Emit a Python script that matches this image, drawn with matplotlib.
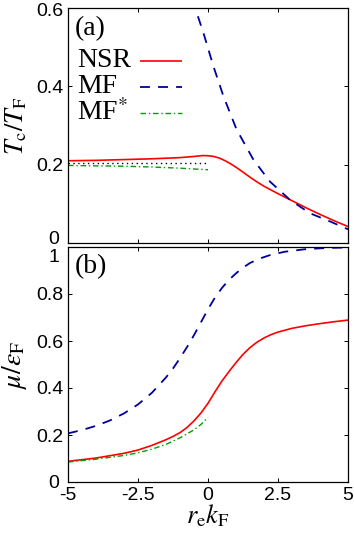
import numpy as np
import matplotlib
matplotlib.use("Agg")
import matplotlib.pyplot as plt
import matplotlib.transforms as mtransforms

# ---------------- data ----------------
# panel (a): Tc/TF vs re*kF
x_tc_nsr = [-5, -4, -3, -2, -1, -0.5, -0.2, 0, 0.2, 0.4, 0.6, 0.8, 1.0, 1.25, 1.5, 1.75, 2.0,
            2.5, 3.0, 3.5, 4.0, 4.5, 5]
y_tc_nsr = [0.210, 0.211, 0.213, 0.215, 0.218, 0.221, 0.2232, 0.2228, 0.2210, 0.2170, 0.2105,
            0.2025, 0.1935, 0.181, 0.168, 0.156, 0.145, 0.126, 0.108, 0.090, 0.073, 0.057, 0.042]
x_tc_mf = [-1.0, -0.6, -0.46, -0.17, 0.19, 0.55, 1.02, 1.62, 2.21, 2.93, 3.64, 4.36, 5]
y_tc_mf = [0.74, 0.635, 0.60, 0.538, 0.452, 0.375, 0.290, 0.213, 0.157, 0.110, 0.076, 0.055, 0.035]
x_tc_mfs = [-5, -4, -3, -2, -1, 0]
y_tc_mfs = [0.198, 0.197, 0.196, 0.194, 0.191, 0.187]
x_tc_ref = [-5, 0]
y_tc_ref = [0.203, 0.203]

# panel (b): mu/eF vs re*kF
x_mu_nsr = [-5, -4, -3, -2.5, -2, -1.5, -1.25, -1, -0.75, -0.5, -0.25, 0, 0.25, 0.5, 0.75,
            1.0, 1.25, 1.5, 1.75, 2.0, 2.25, 2.5, 3.0, 3.5, 4, 4.5, 5]
y_mu_nsr = [0.088, 0.102, 0.122, 0.136, 0.156, 0.180, 0.194, 0.210, 0.232, 0.260, 0.294,
            0.335, 0.384, 0.430, 0.470, 0.508, 0.543, 0.572, 0.595, 0.613, 0.627, 0.638,
            0.654, 0.665, 0.674, 0.682, 0.689]
x_mu_mf = [-5, -4.5, -4, -3.5, -3, -2.5, -2, -1.5, -1.25, -1, -0.75, -0.5, -0.25, 0, 0.25,
           0.5, 0.75, 1.0, 1.25, 1.5, 1.85, 2.25, 2.75, 3.5, 4.25, 5]
y_mu_mf = [0.207, 0.221, 0.239, 0.262, 0.292, 0.330, 0.380, 0.445, 0.483, 0.527, 0.574,
           0.625, 0.680, 0.735, 0.785, 0.826, 0.860, 0.888, 0.912, 0.932, 0.951, 0.967,
           0.980, 0.991, 0.996, 0.998]
x_mu_mfs = [-5, -4, -3, -2.5, -2, -1.5, -1, -0.5, -0.25, 0]
y_mu_mfs = [0.085, 0.097, 0.113, 0.124, 0.140, 0.160, 0.188, 0.222, 0.245, 0.275]

legend_labels = ["NSR", "MF", r"MF$^{*}$"]
x_ticks = [-5, -2.5, 0, 2.5, 5]
x_ticklabels = ["-5", "-2.5", "0", "2.5", "5"]
tc_ticks = [0, 0.2, 0.4, 0.6]
tc_ticklabels = ["0", "0.2", "0.4", "0.6"]
mu_ticks = [0, 0.2, 0.4, 0.6, 0.8, 1.0]
mu_ticklabels = ["0", "0.2", "0.4", "0.6", "0.8", "1"]

# ---------------- style ----------------
plt.rcParams["mathtext.fontset"] = "stix"
plt.rcParams["font.family"] = ["Liberation Sans", "DejaVu Sans"]
SERIF = ["Liberation Serif", "DejaVu Serif"]

RED = "#ff0000"
BLUE = "#00009c"
GREEN = "#00a000"

W, H = 354, 535
fig = plt.figure(figsize=(W / 100, H / 100), dpi=100)
axL, axR = 68, 348
ax1 = fig.add_axes([axL / W, 1 - 243 / H, (axR - axL) / W, 235 / H])
ax2 = fig.add_axes([axL / W, 1 - 482 / H, (axR - axL) / W, 235 / H])

sty_nsr = dict(color=RED, lw=1.2, solid_capstyle="butt")
sty_mf = dict(color=BLUE, lw=1.3, dashes=(5.5, 4.5))
sty_mfs = dict(color=GREEN, lw=1.0, dashes=(4, 2, 1, 2))
sty_ref = dict(color="black", lw=1.0, dashes=(1, 2.5))

h1, = ax1.plot(x_tc_nsr, y_tc_nsr, **sty_nsr)
h2, = ax1.plot(x_tc_mf, y_tc_mf, **sty_mf)
h3, = ax1.plot(x_tc_mfs, y_tc_mfs, **sty_mfs)
ax1.plot(x_tc_ref, y_tc_ref, **sty_ref)

ax2.plot(x_mu_nsr, y_mu_nsr, **sty_nsr)
ax2.plot(x_mu_mf, y_mu_mf, **sty_mf)
ax2.plot(x_mu_mfs, y_mu_mfs, **sty_mfs)

for ax in (ax1, ax2):
    ax.set_xlim(-5, 5)
    ax.set_xticks(x_ticks)
    ax.tick_params(direction="in", length=3, width=0.7, top=True, right=True,
                   labelsize=14, pad=3.5)
    for sp in ax.spines.values():
        sp.set_linewidth(0.9)

ax1.set_ylim(0, 0.6)
ax1.set_yticks(tc_ticks)
ax1.set_yticklabels(tc_ticklabels)
ax1.set_xticklabels([])

ax2.set_ylim(0, 1.0)
ax2.set_yticks(mu_ticks)
ax2.set_yticklabels(mu_ticklabels)
ax2.set_xticklabels(x_ticklabels)

ax1.set_ylabel(r"$T_{\mathrm{c}}/T_{\mathrm{F}}$", fontsize=19, labelpad=5)
ax2.set_ylabel(r"$\mu/\varepsilon_{\mathrm{F}}$", fontsize=20, labelpad=5)
ax2.set_xlabel(r"$r_{\mathrm{e}}k_{\mathrm{F}}$", fontsize=19, labelpad=-1)

# gnuplot-like shifted end labels
def shift_label(ax, idx, dx_px, dy_px):
    t = ax.yaxis.get_major_ticks()[idx].label1
    t.set_transform(t.get_transform() +
                    mtransforms.ScaledTranslation(dx_px / 100, dy_px / 100, fig.dpi_scale_trans))

shift_label(ax1, 0, -4, 6)
shift_label(ax1, 3, 0, -2)
shift_label(ax2, 0, -4, 0)
shift_label(ax2, 5, -4, -9)

ax1.text(0.025, 0.965, "(a)", transform=ax1.transAxes, family=SERIF, fontsize=20, ha="left", va="top")
ax2.text(0.025, 0.968, "(b)", transform=ax2.transAxes, family=SERIF, fontsize=20, ha="left", va="top")

# legend: handles via legend, labels left aligned as text
fs = 4
fs_px = fs * 100 / 72
leg = ax1.legend([h1, h2, h3], ["", "", ""], loc="upper left",
                 bbox_to_anchor=((140 - axL) / 280, (243 - 56) / 235),
                 frameon=False, fontsize=fs, borderpad=0, borderaxespad=0,
                 handletextpad=0, handlelength=42 / fs_px, handleheight=26 / fs_px,
                 labelspacing=7.7 / fs_px)
for lab, yb in zip(legend_labels, [66.7, 92.7, 120]):
    ax1.text((77 - axL) / 280, (243 - yb) / 235, lab, transform=ax1.transAxes,
             family=SERIF, fontsize=20, ha="left", va="baseline")

fig.savefig("out.png", dpi=100)
